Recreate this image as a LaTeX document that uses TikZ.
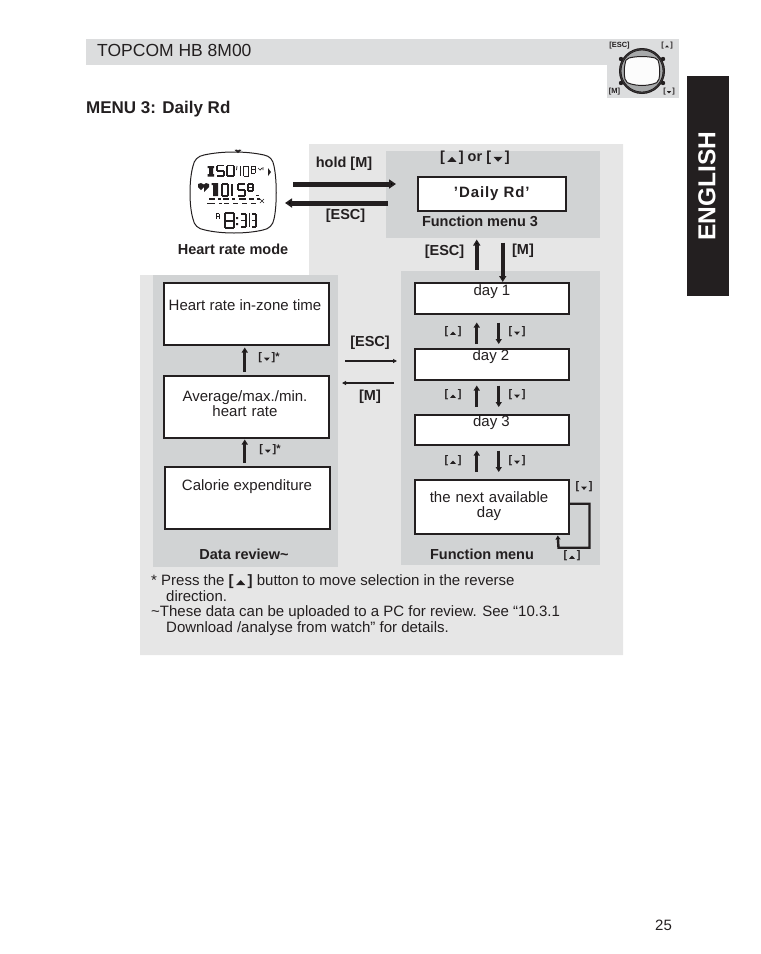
\documentclass[tikz,border=0pt]{standalone}
\usepackage{fontspec}
\setmainfont{Liberation Sans}
\usetikzlibrary{arrows.meta}
\definecolor{ink}{HTML}{231F20}
\definecolor{light}{HTML}{E6E6E6}
\definecolor{mid}{HTML}{D1D3D4}
\definecolor{band}{HTML}{DCDDDE}
\newcommand\upt[1][6]{\tikz[x=1pt,y=1pt,baseline=0pt]\fill[ink] (0,0)--(#1,0)--(#1/2,#1*0.55)--cycle;}
\newcommand\dnt[1][6]{\tikz[x=1pt,y=1pt,baseline=0pt]\fill[ink] (0,#1*0.55)--(#1,#1*0.55)--(#1/2,0)--cycle;}
\newcommand\kup{[\,\upt\,]}
\newcommand\kdn{[\,\dnt\,]}
\newcommand\fsz[1]{\fontsize{#1}{#1}\selectfont}
% seven-segment glyph: x y w h linewidth segments
\newcommand\sseg[6]{\foreach \s in {#6}{%
  \ifnum\s=1 \draw[line width=#5] (#1,#2)--++(#3,0);\fi
  \ifnum\s=2 \draw[line width=#5] (#1+#3,#2)--++(0,#4/2);\fi
  \ifnum\s=3 \draw[line width=#5] (#1+#3,#2+#4/2)--++(0,#4/2);\fi
  \ifnum\s=4 \draw[line width=#5] (#1,#2+#4)--++(#3,0);\fi
  \ifnum\s=5 \draw[line width=#5] (#1,#2+#4/2)--++(0,#4/2);\fi
  \ifnum\s=6 \draw[line width=#5] (#1,#2)--++(0,#4/2);\fi
  \ifnum\s=7 \draw[line width=#5] (#1,#2+#4/2)--++(#3,0);\fi}}
\tikzset{
  lbl/.style={inner sep=0pt,text=ink,font=\fsz{14.5}\bfseries},
  plain/.style={inner sep=0pt,text=ink,font=\fsz{15},align=center},
  note/.style={inner sep=0pt,text=ink,font=\fsz{15},anchor=base west},
  key/.style={inner sep=0pt,text=ink,font=\fsz{11}\bfseries},
  screen/.style={draw=ink,line width=1.5pt,fill=white,minimum width=#1,inner sep=0pt,anchor=north west},
  big/.style={-{Triangle[length=7pt,width=9pt]},line width=5pt,draw=ink},
  bigm/.style={-{Triangle[length=6pt,width=7pt]},line width=3.8pt,draw=ink},
  med/.style={-{Triangle[length=5pt,width=6pt]},line width=2.8pt,draw=ink},
  loopline/.style={-{Triangle[length=4pt,width=5pt]},line width=2.4pt,draw=ink},
  slim/.style={-{Triangle[length=4pt,width=4pt]},line width=1.3pt,draw=ink},
}
\begin{document}
\begin{tikzpicture}[x=1pt,y=-1pt]
\useasboundingbox (0,0) rectangle (761,954);
% page furniture
\fill[band] (86,39) rectangle (607,65);
\fill[band] (607,39) rectangle (679,98);
\node[inner sep=0pt,anchor=west,text=ink,font=\fsz{17.5}] (title) at (97,50.5) {TOPCOM HB 8M00};
\node[inner sep=0pt,anchor=west,text=ink,font=\fsz{17}\bfseries] (menu) at (86,109) {MENU 3: Daily Rd};
\fill[ink] (687,76) rectangle (729,296);
\node[rotate=90,inner sep=0pt,text=white,font=\fsz{24.5}\bfseries] (eng) at (707,186) {ENGLISH};
\node[inner sep=0pt,text=ink,font=\fsz{15}] (pg) at (663.5,925) {25};
% corner watch
\fill[ink] (621,59) circle (2.2) (663,59) circle (2.2) (621,83) circle (2.2) (663,83) circle (2.2);
\fill[ink!85,draw=ink,line width=1pt] (642,71) circle (22.5);
\fill[mid!80!black,draw=ink,line width=.8pt] (642,71) circle (21);
\draw[ink,line width=1pt,fill=white!92!band] (629,58) .. controls (637,56) and (647,56) .. (655,58)
  .. controls (658,59) and (659,61) .. (659,64) .. controls (660,69) and (660,74) .. (659,79)
  .. controls (658,82) and (656,84) .. (653,84) .. controls (646,86) and (638,86) .. (631,84)
  .. controls (628,84) and (626,82) .. (625,79) .. controls (624,74) and (624,69) .. (625,64)
  .. controls (625,61) and (626,59) .. (629,58) -- cycle;
\node[key,font=\fsz{7.5}\bfseries] (kesc) at (619.5,45.5) {[ESC]};
\node[key,font=\fsz{7.5}\bfseries] (kmm) at (614.5,91.5) {[M]};
\node[key,font=\fsz{7.5}\bfseries] (ku) at (667,45.5) {[\,\upt[4]\,]};
\node[key,font=\fsz{7.5}\bfseries] (kd) at (669,91.5) {[\,\dnt[4]\,]};
% panels
\fill[light] (309,144) -- (623,144) -- (623,655) -- (140,655) -- (140,275) -- (309,275) -- cycle;
\fill[mid] (386,151) rectangle (600,238);
\fill[mid] (401,271) rectangle (600,565);
\fill[mid] (153,275) rectangle (338,567);
% watch face
\draw[ink,line width=1pt,fill=white] (204,155) .. controls (222,151) and (246,151) .. (264,155)
  .. controls (270,156) and (273,160) .. (274,166) .. controls (277,180) and (277,206) .. (274,219)
  .. controls (273,225) and (269,229) .. (263,230) .. controls (246,234) and (222,234) .. (205,230)
  .. controls (198,229) and (194,225) .. (193,219) .. controls (189,206) and (189,180) .. (193,166)
  .. controls (194,160) and (198,156) .. (204,155) -- cycle;
\fill[ink] (238,153) -- (234.5,150) -- (237,149.5) -- (238,150.5) -- (239,149.5) -- (241.5,150) -- cycle;
\begin{scope}[draw=ink,fill=ink]
  \fill (207.5,166) rectangle (214,168) (209,168) rectangle (213,174) (207.5,174) rectangle (214,176.5);
  \sseg{217}{165.5}{7}{10.5}{1.6pt}{1,6,7,3,4}
  \sseg{227}{165.5}{7}{10.5}{1.6pt}{1,2,3,4,5,6}
  \draw[line width=.8pt] (237,166)--(236.5,170);
  \sseg{240}{166}{0}{10}{1pt}{2,3}
  \sseg{243.5}{166}{5}{10}{1pt}{1,2,3,4,5,6}
  \sseg{251}{166}{4}{7}{1pt}{1,2,3,4,5,6,7}
  \draw[line width=.7pt] (258,168)--(260,170)--(262,168) (263,167)--(263,170);
  \fill (268,176) -- (268,168) -- (271,172) -- cycle;
  \fill (204,187) -- (201,190) -- (198,187) -- (198,184) -- (201,183) -- (204,184.5) -- (206,183) -- (209,184) -- (209,187) -- (204,192) -- cycle;
  % middle row
  \fill (213,183) rectangle (218,196) (211.5,183) rectangle (218,185);
  \sseg{222}{184}{6}{12}{2.4pt}{1,2,3,4,5,6}
  \sseg{232}{184}{0}{12}{2.4pt}{2,3}
  \sseg{238}{184}{7}{12}{2.4pt}{1,6,7,3,4}
  \sseg{248}{184}{5}{7}{1.5pt}{1,2,3,4,5,6,7}
  \sseg{256}{185}{3}{10}{1pt}{4}
  \foreach \xx/\ww in {209/6,218/3,223/6,232/3,239/7,249/5,257/3}{\fill (\xx,198) rectangle ++(\ww,2.2);}
  \foreach \xx/\ww in {207/8,219/3,224/5,233/5,242/5,251/5}{\draw[line width=1pt] (\xx,203)--++(\ww,0);}
  \draw[line width=.6pt] (260,199)--(264,203) (264,199)--(260,203);
  % bottom row
  \sseg{216}{213.5}{3}{5.5}{1pt}{1,2,3,5,6,7}
  \sseg{224.5}{213}{9}{15}{2pt}{1,2,3,4,5,6,7}
  \fill (236,217) rectangle (238,219) (236,223) rectangle (238,225);
  \sseg{241}{214}{5}{13}{1.2pt}{1,2,3,4,7}
  \sseg{249}{213}{0}{14}{1pt}{2,3}
  \sseg{252}{214}{4}{13}{1.2pt}{1,2,3,4,7}
\end{scope}
% flow nodes
\node[screen=148pt,minimum height=34pt,font=\fsz{15}\bfseries,text=ink] (daily) at (417,176) {\addfontfeature{LetterSpace=6}'Daily Rd'};
\node[screen=154pt,minimum height=31pt] (day1) at (414,282) {};
\node[screen=154pt,minimum height=31pt] (day2) at (414,348) {};
\node[screen=154pt,minimum height=30pt] (day3) at (414,414) {};
\node[screen=154pt,minimum height=54pt] (next) at (414,479) {};
\node[screen=165pt,minimum height=62pt] (hrz) at (163,282) {};
\node[screen=165pt,minimum height=62pt] (avg) at (163,375) {};
\node[screen=165pt,minimum height=62pt] (cal) at (164,466) {};
\node[plain] (t1) at (492,292) {day 1};
\node[plain] (t2) at (491,357) {day 2};
\node[plain] (t3) at (491.5,423) {day 3};
\node[plain,text width=150pt] (t4) at (489,506) {\baselineskip=14pt the next available\\day};
\node[plain] (t5) at (245,305) {Heart rate in-zone time};
\node[plain,text width=160pt] (t6) at (245,404) {\baselineskip=14pt Average/max./min.\\heart rate};
\node[plain] (t7) at (247,487) {Calorie expenditure};
% labels
\node[lbl] (hm) at (233,249) {Heart rate mode};
\node[lbl] (hold) at (344,164) {hold [M]};
\node[lbl] (esc1) at (345.5,216) {[ESC]};
\node[lbl] (updn) at (475,158) {[\,\upt[9]\,] or [\,\dnt[9]\,]};
\node[lbl] (fm3) at (480,221) {Function menu 3};
\node[lbl] (esc2) at (444.5,252) {[ESC]};
\node[lbl] (m2) at (523,251) {[M]};
\node[lbl] (esc3) at (370,343) {[ESC]};
\node[lbl] (m3) at (370,397) {[M]};
\node[lbl] (dr) at (244,554) {Data review\textasciitilde};
\node[lbl] (fm) at (482,554) {Function menu};
\node[key] (a1) at (453,332) {\kup}; \node[key] (b1) at (517,332) {\kdn};
\node[key] (a2) at (453,395) {\kup}; \node[key] (b2) at (517,395) {\kdn};
\node[key] (a3) at (453,461) {\kup}; \node[key] (b3) at (517,461) {\kdn};
\node[key] (b4) at (584,487) {\kdn}; \node[key] (a4) at (572,556) {\kup};
\node[key] (c1) at (269,358) {\kdn*}; \node[key] (c2) at (270,450) {\kdn*};
% notes
\node[note] (n1) at (151,585) {* Press the {\bfseries [\,\upt[9]\,]} button to move selection in the reverse};
\node[note] (n2) at (166,601) {direction.};
\node[note] (n3) at (151,616) {\textasciitilde These data can be uploaded to a PC for review. See “10.3.1};
\node[note] (n4) at (166,632) {Download /analyse from watch” for details.};
% connectors
\coordinate (holdS) at (293,184); \coordinate (holdE) at (396,184);
\coordinate (escS) at (388,203); \coordinate (escE) at (285,203);
\draw[big] (holdS) -- (holdE);
\draw[big] (escS) -- (escE);
\draw[bigm] ([xshift=-15pt,yshift=12pt]day1.north) -- ([xshift=-15pt,yshift=-28pt]daily.south);
\draw[bigm] ([xshift=11pt,yshift=-31pt]daily.south) -- ([xshift=11pt]day1.north);
\draw[med] ([xshift=-15pt,yshift=4pt]day2.north) -- ([xshift=-15pt,yshift=-8pt]day1.south);
\draw[med] ([xshift=7pt,yshift=-8pt]day1.south) -- ([xshift=7pt,yshift=4pt]day2.north);
\draw[med] ([xshift=-15pt,yshift=7pt]day3.north) -- ([xshift=-15pt,yshift=-5pt]day2.south);
\draw[med] ([xshift=7pt,yshift=-5pt]day2.south) -- ([xshift=7pt,yshift=7pt]day3.north);
\draw[med] ([xshift=-15pt,yshift=7pt]next.north) -- ([xshift=-15pt,yshift=-5pt]day3.south);
\draw[med] ([xshift=7pt,yshift=-5pt]day3.south) -- ([xshift=7pt,yshift=7pt]next.north);
\draw[loopline] ([yshift=3pt]next.east) -- ++(20,0) -- ++(0,44) -- ++(-31,0) -- ([xshift=66pt,yshift=-1pt]next.south);
\draw[med] ([xshift=-1.5pt,yshift=3pt]avg.north) -- ([xshift=-1.5pt,yshift=-2pt]hrz.south);
\draw[med] ([xshift=-2.5pt,yshift=3pt]cal.north) -- ([xshift=-1.5pt,yshift=-1pt]avg.south);
\coordinate (dataE) at (397,361); \coordinate (dataW) at (345,361);
\coordinate (menuE) at (394,383); \coordinate (menuW) at (342,383);
\draw[slim] (dataW) -- (dataE);
\draw[slim] (menuE) -- (menuW);
\end{tikzpicture}
\end{document}
